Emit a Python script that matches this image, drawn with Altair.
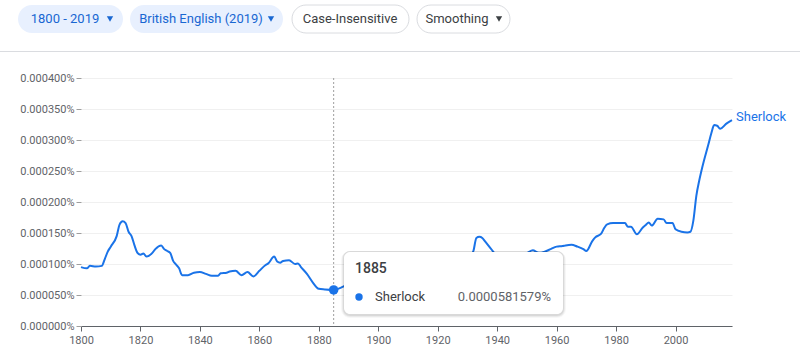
import altair as alt
import pandas as pd

# ---- data (values in percent units, as on the axis) ----
years = [1800, 1802, 1803, 1805, 1807, 1808, 1809, 1810, 1812, 1813, 1814, 1815,
         1816, 1817, 1818, 1819, 1820, 1821, 1822, 1824, 1825, 1827, 1828, 1829,
         1830, 1831, 1832, 1833, 1834, 1836, 1838, 1840, 1842, 1844, 1846, 1847,
         1849, 1850, 1852, 1854, 1856, 1858, 1860, 1862, 1863, 1865, 1866, 1867,
         1868, 1870, 1872, 1873, 1874, 1876, 1878, 1880, 1882, 1885, 1888, 1890,
         1895, 1900, 1905, 1910, 1915, 1920, 1925, 1930, 1932, 1933, 1934, 1935,
         1936, 1938, 1940, 1945, 1950, 1952, 1954, 1956, 1958, 1960, 1962, 1963,
         1965, 1967, 1969, 1970, 1972, 1973, 1975, 1976, 1977, 1979, 1983, 1984,
         1985, 1987, 1989, 1990, 1991, 1992, 1994, 1996, 1997, 1999, 2000, 2002,
         2004, 2005, 2006, 2007, 2008, 2009, 2011, 2012, 2013, 2014, 2015, 2017,
         2019]
values = [0.000095, 0.000093, 0.000097, 0.000096, 0.000097, 0.000108, 0.000120,
          0.000128, 0.000145, 0.000164, 0.000169, 0.000166, 0.000152, 0.000145,
          0.000130, 0.000118, 0.000115, 0.000117, 0.000112, 0.000118, 0.000124,
          0.000130, 0.000124, 0.000121, 0.000118, 0.000105, 0.000099, 0.000093,
          0.000082, 0.000082, 0.000086, 0.000087, 0.000084, 0.000081, 0.000081,
          0.000085, 0.000086, 0.000088, 0.000089, 0.000082, 0.000087, 0.000080,
          0.000089, 0.000098, 0.000101, 0.000112, 0.000104, 0.000102, 0.000105,
          0.000106, 0.000100, 0.000101, 0.000095, 0.000084, 0.000070, 0.000060,
          0.000059, 0.0000581579, 0.000063, 0.000068, 0.000080, 0.000088, 0.000095,
          0.000098, 0.000100, 0.000105, 0.000104, 0.000108, 0.000121, 0.000142,
          0.000144, 0.000142, 0.000136, 0.000124, 0.000114, 0.000112, 0.000118,
          0.000122, 0.000118, 0.000120, 0.000124, 0.000128, 0.000129, 0.000130,
          0.000131, 0.000128, 0.000124, 0.000121, 0.000137, 0.000143, 0.000149,
          0.000158, 0.000164, 0.000166, 0.000166, 0.000160, 0.000160, 0.000148,
          0.000159, 0.000163, 0.000167, 0.000162, 0.000173, 0.000172, 0.000166,
          0.000166, 0.000156, 0.000152, 0.000151, 0.000152, 0.000170, 0.000210,
          0.000235, 0.000256, 0.000292, 0.000310, 0.000324, 0.000323, 0.000318,
          0.000326, 0.000332]
series_name = "Sherlock"
hover_year = 1885
hover_label = "0.0000581579%"
x_ticks = [1800, 1820, 1840, 1860, 1880, 1900, 1920, 1940, 1960, 1980, 2000]
y_ticks = [0, 0.00005, 0.0001, 0.00015, 0.0002, 0.00025, 0.0003, 0.00035, 0.0004]
pill_labels = ["1800 - 2019", "British English (2019)", "Case-Insensitive", "Smoothing"]

df = pd.DataFrame({"year": years, "value": values, "term": series_name})

BLUE = "#1a73e8"
FONT = "Roboto"
L, T = 81, 78  # plot origin in page pixels

xs = alt.Scale(domain=[1800, 2019], nice=False, zero=False)
ys = alt.Scale(domain=[0, 0.0004], nice=False)

xaxis = alt.Axis(values=x_ticks, format="d", grid=False, domain=True,
                 domainColor="#5f6368", tickColor="#5f6368", tickSize=5,
                 labelFontSize=11, labelColor="#5f6368", labelFont=FONT,
                 labelPadding=3, labelFlush=False, labelOverlap=False)
yaxis = alt.Axis(values=y_ticks, domain=False, tickSize=5, tickColor="#9e9e9e",
                 labelExpr="format(datum.value, '.6f') + '%'",
                 labelFontSize=11, labelColor="#5f6368", labelFont=FONT,
                 labelPadding=2, grid=True, gridColor="#f0f0f0",
                 labelFlush=False, labelOverlap=False)

X = alt.X("year:Q", scale=xs, title=None, axis=xaxis)
Y = alt.Y("value:Q", scale=ys, title=None, axis=yaxis)

base = alt.Chart(df)

line = base.mark_line(color=BLUE, strokeWidth=2, interpolate="monotone").encode(x=X, y=Y)

hover = base.transform_filter(alt.datum.year == hover_year)
rule = hover.mark_rule(color="#9e9e9e", strokeDash=[2, 2], strokeWidth=1).encode(
    x=X, y=alt.value(0), y2=alt.value(248))
dot = hover.mark_circle(color=BLUE, size=90, opacity=1).encode(x=X, y=Y)

end_label = base.transform_filter(alt.datum.year == 2019).mark_text(
    align="left", baseline="middle", dx=4, dy=-3, fontSize=13, font=FONT, color=BLUE
).encode(x=X, y=Y, text="term:N")

one = alt.Data(values=[{}])


def rect(x1, x2, y1, y2, **kw):
    return alt.Chart(one).mark_rect(**kw).encode(
        x=alt.value(x1 - L), x2=alt.value(x2 - L), y=alt.value(y1 - T), y2=alt.value(y2 - T))


def text(s, x, y, **kw):
    return alt.Chart(one).mark_text(text=s, baseline="middle", font=FONT, **kw).encode(
        x=alt.value(x - L), y=alt.value(y - T))


def arrow(x, y, color):
    return alt.Chart(one).mark_point(shape="triangle-down", filled=True, size=40,
                                     color=color, opacity=1).encode(
        x=alt.value(x - L), y=alt.value(y - T))


deco = []
# separator line
deco.append(rect(0, 800, 51, 52, fill="#dadce0"))
# pills
PILL_BLUE = "#e8f0fe"
TXT_BLUE = "#1967d2"
deco += [
    rect(18, 123, 5, 33, fill=PILL_BLUE, cornerRadius=14),
    text(pill_labels[0], 65, 19, fontSize=13, color=TXT_BLUE, align="center"),
    arrow(110, 19, TXT_BLUE),
    rect(130, 283, 5, 33, fill=PILL_BLUE, cornerRadius=14),
    text(pill_labels[1], 201, 19, fontSize=13, color=TXT_BLUE, align="center"),
    arrow(271, 19, TXT_BLUE),
    rect(292, 409, 5, 33, fill="white", stroke="#dadce0", strokeWidth=1, cornerRadius=14),
    text(pill_labels[2], 350, 19, fontSize=13, color="#3c4043", align="center"),
    rect(417, 510, 5, 33, fill="white", stroke="#dadce0", strokeWidth=1, cornerRadius=14),
    text(pill_labels[3], 457, 19, fontSize=13, color="#3c4043", align="center"),
    arrow(499, 19, "#3c4043"),
]

# tooltip card with soft shadow
tip = [
    rect(341, 566, 251, 318, fill="black", opacity=0.03, cornerRadius=9),
    rect(342, 565, 251, 317, fill="black", opacity=0.05, cornerRadius=8),
    rect(343, 564, 251, 316, fill="black", opacity=0.07, cornerRadius=7),
    rect(344, 563, 252, 314, fill="white", cornerRadius=6),
    text(str(hover_year), 355, 269, fontSize=14, color="#3c4043", align="left", fontWeight=500),
    alt.Chart(one).mark_circle(color=BLUE, size=55, opacity=1).encode(
        x=alt.value(359 - L), y=alt.value(297 - T)),
    text(series_name, 375, 297, fontSize=13, color="#3c4043", align="left"),
    text(hover_label, 551, 297, fontSize=13, color="#5f6368", align="right"),
]

chart = alt.layer(line, rule, dot, end_label, *deco, *tip).properties(
    width=651, height=248,
    padding={"left": L, "top": T, "right": 800 - L - 651, "bottom": 352 - T - 248},
    autosize=alt.AutoSizeParams(type="none"),
    background="white",
).configure_view(stroke=None)

chart.save("out.html", embed_options={"renderer": "svg", "actions": False})
